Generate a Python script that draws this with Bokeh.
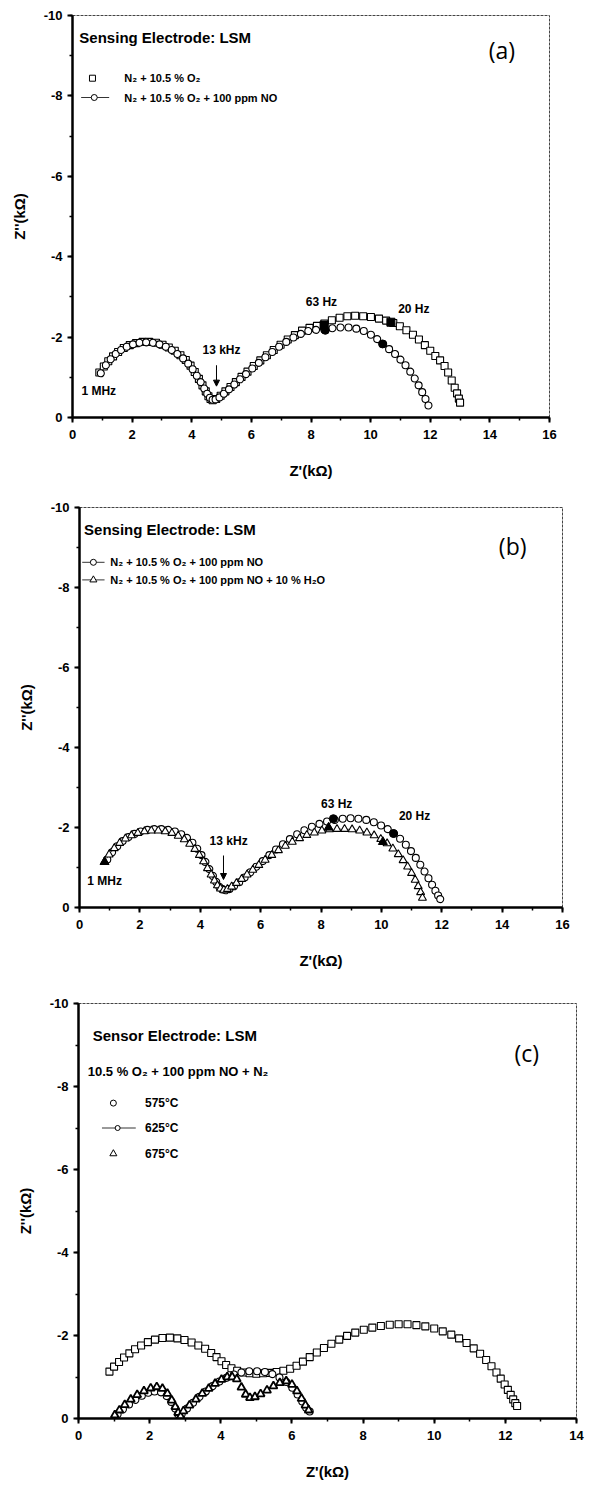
from bokeh.plotting import figure
from bokeh.models import Range1d, FixedTicker, Label, Arrow, NormalHead, PrintfTickFormatter
from bokeh.layouts import column
from bokeh.embed import file_html
from bokeh.resources import INLINE

# ---------------- Panel (a) data ----------------
a_o2_x = [0.90,1.05,1.20,1.36,1.53,1.72,1.92,2.13,2.35,2.57,2.80,3.02,3.23,3.43,3.62,3.80,3.96,4.10,4.24,4.36,4.47,4.56,4.63,
          4.70,4.82,4.97,5.13,5.30,5.48,5.67,5.87,6.08,6.30,6.52,6.75,6.98,7.22,7.46,7.70,7.95,8.20,8.45,8.70,8.96,9.22,9.48,
          9.75,10.01,10.28,10.52,10.76,10.98,11.20,11.42,11.62,11.82,12.00,12.17,12.33,12.48,12.60,12.72,12.82,12.90,12.96,13.00]
a_o2_y = [-1.12,-1.27,-1.40,-1.52,-1.63,-1.73,-1.80,-1.85,-1.88,-1.88,-1.86,-1.81,-1.74,-1.66,-1.55,-1.43,-1.29,-1.13,-0.96,-0.80,-0.65,-0.53,-0.46,
          -0.43,-0.46,-0.54,-0.65,-0.76,-0.88,-1.01,-1.14,-1.28,-1.42,-1.55,-1.68,-1.81,-1.94,-2.05,-2.16,-2.23,-2.28,-2.34,-2.42,-2.48,-2.52,-2.53,
          -2.52,-2.50,-2.46,-2.41,-2.35,-2.27,-2.17,-2.06,-1.94,-1.80,-1.66,-1.53,-1.42,-1.28,-1.12,-0.92,-0.74,-0.60,-0.47,-0.37]
a_no_x = [0.95,1.12,1.28,1.45,1.63,1.82,2.03,2.25,2.47,2.70,2.92,3.13,3.33,3.52,3.71,3.88,4.03,4.17,4.30,4.42,4.52,4.61,4.70,
          4.80,4.93,5.08,5.25,5.43,5.62,5.82,6.03,6.25,6.47,6.70,6.93,7.17,7.41,7.66,7.91,8.17,8.45,8.72,8.99,9.26,9.52,9.77,
          10.01,10.22,10.42,10.62,10.82,11.00,11.17,11.33,11.48,11.61,11.73,11.84,11.94]
a_no_y = [-1.10,-1.30,-1.45,-1.58,-1.68,-1.76,-1.82,-1.86,-1.87,-1.86,-1.82,-1.76,-1.68,-1.58,-1.47,-1.34,-1.20,-1.04,-0.88,-0.72,-0.59,-0.49,-0.44,
          -0.45,-0.50,-0.59,-0.70,-0.82,-0.95,-1.08,-1.22,-1.36,-1.50,-1.63,-1.76,-1.88,-1.99,-2.08,-2.15,-2.18,-2.18,-2.22,-2.24,-2.24,-2.21,-2.15,
          -2.06,-1.95,-1.83,-1.70,-1.58,-1.44,-1.30,-1.14,-0.97,-0.80,-0.63,-0.46,-0.30]
a_sq_fill_x = [8.44, 10.68]
a_sq_fill_y = [-2.30, -2.37]
a_ci_fill_x = [8.48, 10.40]
a_ci_fill_y = [-2.17, -1.83]

# ---------------- Panel (b) data ----------------
b_no_x = [0.92,1.08,1.25,1.43,1.62,1.82,2.03,2.25,2.48,2.71,2.94,3.16,3.37,3.56,3.74,3.90,4.04,4.17,4.30,4.42,4.53,4.63,4.73,
          4.84,4.97,5.12,5.29,5.47,5.66,5.86,6.07,6.29,6.51,6.74,6.97,7.21,7.45,7.70,7.95,8.20,8.46,8.72,8.98,9.24,9.50,9.75,
          9.99,10.21,10.42,10.62,10.81,10.98,11.14,11.29,11.43,11.56,11.68,11.79,11.88,11.95]
b_no_y = [-1.20,-1.38,-1.53,-1.66,-1.76,-1.84,-1.90,-1.94,-1.96,-1.96,-1.94,-1.90,-1.83,-1.74,-1.62,-1.47,-1.31,-1.14,-0.96,-0.79,-0.64,-0.52,-0.45,
          -0.43,-0.46,-0.53,-0.63,-0.75,-0.88,-1.02,-1.16,-1.31,-1.45,-1.58,-1.71,-1.83,-1.93,-2.02,-2.09,-2.15,-2.19,-2.22,-2.23,-2.22,-2.19,-2.13,
          -2.05,-1.96,-1.85,-1.72,-1.57,-1.41,-1.24,-1.07,-0.90,-0.73,-0.57,-0.42,-0.30,-0.21]
b_h2o_x = [0.83,0.98,1.15,1.33,1.52,1.72,1.93,2.15,2.38,2.61,2.84,3.06,3.27,3.47,3.65,3.82,3.97,4.11,4.24,4.36,4.47,4.57,4.67,
           4.78,4.90,5.04,5.20,5.37,5.55,5.74,5.94,6.15,6.37,6.59,6.82,7.05,7.29,7.53,7.78,8.03,8.28,8.53,8.78,9.03,9.28,9.52,
           9.76,9.98,10.19,10.38,10.56,10.72,10.87,11.00,11.12,11.22,11.30,11.36]
b_h2o_y = [-1.14,-1.32,-1.48,-1.61,-1.72,-1.80,-1.86,-1.90,-1.92,-1.92,-1.90,-1.86,-1.79,-1.70,-1.59,-1.46,-1.31,-1.15,-0.98,-0.82,-0.67,-0.55,-0.47,
           -0.44,-0.46,-0.52,-0.61,-0.71,-0.82,-0.94,-1.06,-1.19,-1.31,-1.43,-1.54,-1.64,-1.73,-1.81,-1.87,-1.92,-1.95,-1.96,-1.96,-1.95,-1.92,-1.87,
           -1.80,-1.71,-1.60,-1.47,-1.33,-1.18,-1.02,-0.86,-0.69,-0.53,-0.38,-0.24]
b_ci_fill_x = [8.41, 10.40]
b_ci_fill_y = [-2.22, -1.85]
b_tr_fill_x = [0.83, 8.25, 10.05]
b_tr_fill_y = [-1.14, -2.00, -1.64]

# ---------------- Panel (c) data ----------------
c_575_x = [0.87,1.00,1.14,1.28,1.43,1.59,1.76,1.95,2.15,2.36,2.57,2.78,2.98,3.18,3.37,3.56,3.73,3.88,4.02,4.15,4.30,4.46,4.63,
           4.81,5.00,5.19,5.38,5.57,5.76,5.95,6.13,6.31,6.50,6.70,6.90,7.11,7.33,7.55,7.78,8.02,8.26,8.50,8.75,9.00,9.25,9.50,
           9.75,10.00,10.24,10.48,10.70,10.91,11.11,11.29,11.46,11.61,11.75,11.87,11.98,12.07,12.15,12.22,12.28,12.33]
c_575_y = [-1.13,-1.25,-1.36,-1.47,-1.57,-1.67,-1.76,-1.84,-1.90,-1.94,-1.95,-1.93,-1.89,-1.83,-1.76,-1.68,-1.58,-1.48,-1.38,-1.29,-1.21,-1.15,-1.11,
           -1.09,-1.08,-1.09,-1.10,-1.12,-1.15,-1.20,-1.27,-1.37,-1.48,-1.59,-1.70,-1.80,-1.90,-1.99,-2.07,-2.14,-2.19,-2.23,-2.26,-2.27,-2.27,-2.25,
           -2.22,-2.17,-2.10,-2.02,-1.93,-1.82,-1.69,-1.56,-1.41,-1.26,-1.11,-0.96,-0.82,-0.69,-0.57,-0.46,-0.37,-0.30]
c_625_x = [1.10,1.25,1.42,1.60,1.78,1.96,2.14,2.32,2.48,2.61,2.72,2.80,2.90,3.05,3.22,3.40,3.58,3.77,3.96,4.16,4.37,4.58,
           4.80,5.02,5.24,5.45,5.65,5.84,6.01,6.16,6.29,6.40,6.50]
c_625_y = [-0.10,-0.22,-0.34,-0.45,-0.55,-0.62,-0.65,-0.63,-0.54,-0.40,-0.24,-0.10,-0.10,-0.24,-0.38,-0.52,-0.65,-0.78,-0.89,-0.98,-1.06,-1.11,
           -1.14,-1.14,-1.12,-1.07,-0.99,-0.88,-0.74,-0.58,-0.41,-0.26,-0.17]
c_675_x = [1.02,1.15,1.30,1.47,1.65,1.84,2.03,2.20,2.36,2.50,2.62,2.72,2.80,2.87,2.95,3.12,3.30,3.48,3.66,3.84,4.02,4.18,4.32,
           4.45,4.58,4.70,4.82,4.96,5.12,5.30,5.48,5.66,5.84,6.00,6.14,6.27,6.38,6.47]
c_675_y = [-0.08,-0.20,-0.33,-0.46,-0.57,-0.66,-0.73,-0.76,-0.72,-0.60,-0.44,-0.28,-0.14,-0.05,-0.18,-0.32,-0.46,-0.60,-0.72,-0.84,-0.94,-1.00,-1.00,
           -0.95,-0.75,-0.58,-0.50,-0.52,-0.59,-0.68,-0.78,-0.86,-0.90,-0.82,-0.66,-0.48,-0.32,-0.20]

# tick values
y_ticks = [0, -2, -4, -6, -8, -10]
y_minor = [0, -1, -2, -3, -4, -5, -6, -7, -8, -9, -10]
x_ticks_16 = [0, 2, 4, 6, 8, 10, 12, 14, 16]
x_minor_16 = list(range(0, 17))
x_ticks_14 = [0, 2, 4, 6, 8, 10, 12, 14]
x_minor_14 = list(range(0, 15))

FONT = "Liberation Sans"


def make_fig(h, left, right, top, bottom, xmax, xt, xm):
    p = figure(width=589, height=h, x_range=Range1d(0, xmax), y_range=Range1d(0, -10),
               output_backend="svg", toolbar_location=None,
               min_border_left=left, min_border_right=right,
               min_border_top=top, min_border_bottom=bottom)
    p.frame_align = False
    p.grid.visible = False
    p.background_fill_color = "white"
    p.border_fill_color = "white"
    p.outline_line_color = "#444444"
    p.outline_line_width = 1
    p.outline_line_dash = "3 1"
    p.xaxis.ticker = FixedTicker(ticks=xt, minor_ticks=xm)
    p.yaxis.ticker = FixedTicker(ticks=y_ticks, minor_ticks=y_minor)
    p.xaxis.formatter = PrintfTickFormatter(format="%d")
    p.yaxis.formatter = PrintfTickFormatter(format="%d")
    for ax in (p.xaxis[0], p.yaxis[0]):
        ax.axis_line_width = 2.5
        ax.axis_line_color = "black"
        ax.major_tick_in = 0
        ax.major_tick_out = 5
        ax.minor_tick_in = 0
        ax.minor_tick_out = 3
        ax.major_tick_line_width = 2
        ax.minor_tick_line_width = 1.5
        ax.major_label_text_font = FONT
        ax.major_label_text_font_style = "bold"
        ax.major_label_text_font_size = "13px"
        ax.major_label_text_color = "black"
        ax.axis_label_text_font = FONT
        ax.axis_label_text_font_style = "bold"
        ax.axis_label_text_font_size = "15px"
        ax.axis_label_text_color = "black"
    p.xaxis.axis_label = "Z'(kΩ)"
    p.yaxis.axis_label = "Z''(kΩ)"
    p.xaxis.major_label_standoff = 7
    p.xaxis.axis_label_standoff = 20
    p.yaxis.major_label_standoff = 5
    p.yaxis.axis_label_standoff = 13
    return p


def txt(p, x, y, s, size="12px", align="left", font=FONT, style="bold"):
    p.add_layout(Label(x=x, y=y, text=s, text_font=font, text_font_style=style,
                       text_font_size=size, text_align=align, text_baseline="middle",
                       text_color="black"))


def arrow(p, x, y0, y1):
    p.add_layout(Arrow(end=NormalHead(size=6, fill_color="black", line_color="black"),
                       x_start=x, y_start=y0, x_end=x, y_end=y1,
                       line_width=1, line_color="black"))


MS = 7

# ---------------- Panel (a) ----------------
pa = make_fig(490, 72, 40, 15, 73, 16, x_ticks_16, x_minor_16)
pa.scatter(a_o2_x, a_o2_y, marker="square", size=MS, fill_color="white", line_color="black", line_width=1.1)
pa.line(a_no_x, a_no_y, line_color="black", line_width=0.7, line_dash="2 2")
pa.scatter(a_no_x, a_no_y, marker="circle", size=MS, fill_color="white", line_color="black", line_width=1.1)
pa.scatter(a_sq_fill_x, a_sq_fill_y, marker="square", size=MS + 1, fill_color="black", line_color="black")
pa.scatter(a_ci_fill_x, a_ci_fill_y, marker="circle", size=MS + 1, fill_color="black", line_color="black")
txt(pa, 0.23, -9.46, "Sensing Electrode: LSM", size="15px")
pa.scatter([0.67], [-8.44], marker="square", size=6, fill_color="white", line_color="black")
txt(pa, 1.74, -8.44, "N₂ + 10.5 % O₂", size="11px")
pa.line([0.29, 1.23], [-7.96, -7.96], line_color="black", line_width=0.8)
pa.scatter([0.73], [-7.96], marker="circle", size=6, fill_color="white", line_color="black")
txt(pa, 1.74, -7.96, "N₂ + 10.5 % O₂ + 100 ppm NO", size="11px")
txt(pa, 14.4, -9.13, "(a)", size="23px", align="center", font="Open Sans", style="normal")
txt(pa, 0.30, -0.67, "1 MHz", size="12px")
txt(pa, 4.36, -1.67, "13 kHz", size="12px")
arrow(pa, 4.83, -1.30, -0.78)
txt(pa, 8.35, -2.87, "63 Hz", size="12px", align="center")
txt(pa, 11.45, -2.70, "20 Hz", size="12px", align="center")

# ---------------- Panel (b) ----------------
pb = make_fig(500, 79, 27, 17, 83, 16, x_ticks_16, x_minor_16)
pb.line(b_no_x, b_no_y, line_color="black", line_width=0.7, line_dash="2 2")
pb.scatter(b_no_x, b_no_y, marker="circle", size=MS, fill_color="white", line_color="black", line_width=1.1)
pb.line(b_h2o_x, b_h2o_y, line_color="black", line_width=0.7, line_dash="2 2")
pb.scatter(b_h2o_x, b_h2o_y, marker="triangle", size=MS + 1, fill_color="white", line_color="black", line_width=1.1)
pb.scatter(b_ci_fill_x, b_ci_fill_y, marker="circle", size=MS + 1, fill_color="black", line_color="black")
pb.scatter(b_tr_fill_x, b_tr_fill_y, marker="triangle", size=MS + 2, fill_color="black", line_color="black")
txt(pb, 0.15, -9.46, "Sensing Electrode: LSM", size="15px")
pb.line([0.09, 0.83], [-8.63, -8.63], line_color="black", line_width=0.8)
pb.scatter([0.46], [-8.63], marker="circle", size=6, fill_color="white", line_color="black")
txt(pb, 1.02, -8.63, "N₂ + 10.5 % O₂ + 100 ppm NO", size="11px")
pb.line([0.09, 0.83], [-8.19, -8.19], line_color="black", line_width=0.8)
pb.scatter([0.46], [-8.19], marker="triangle", size=7, fill_color="white", line_color="black")
txt(pb, 1.02, -8.19, "N₂ + 10.5 % O₂ + 100 ppm NO + 10 % H₂O", size="11px")
txt(pb, 14.35, -9.04, "(b)", size="23px", align="center", font="Open Sans", style="normal")
txt(pb, 0.26, -0.67, "1 MHz", size="12px")
txt(pb, 4.31, -1.67, "13 kHz", size="12px")
arrow(pb, 4.77, -1.30, -0.70)
txt(pb, 8.52, -2.60, "63 Hz", size="12px", align="center")
txt(pb, 11.10, -2.30, "20 Hz", size="12px", align="center")

# ---------------- Panel (c) ----------------
pc = make_fig(498, 78, 13, 13, 70, 14, x_ticks_14, x_minor_14)
pc.scatter(c_575_x, c_575_y, marker="square", size=MS, fill_color="white", line_color="black", line_width=1.1)
pc.line(c_625_x, c_625_y, line_color="black", line_width=0.8)
pc.scatter(c_625_x, c_625_y, marker="circle", size=MS, fill_color="white", line_color="black", line_width=1.1)
pc.scatter(c_675_x, c_675_y, marker="triangle", size=MS + 1, fill_color="white", line_color="black", line_width=1.8)
txt(pc, 0.40, -9.24, "Sensor Electrode: LSM", size="15px")
txt(pc, 0.26, -8.36, "10.5 % O₂ + 100 ppm NO + N₂", size="13px")
pc.scatter([0.98], [-7.60], marker="circle", size=6, fill_color="white", line_color="black")
txt(pc, 1.87, -7.60, "575°C", size="12px")
pc.line([0.66, 1.61], [-7.00, -7.00], line_color="black", line_width=0.8)
pc.scatter([1.10], [-7.00], marker="circle", size=5, fill_color="white", line_color="black")
txt(pc, 1.87, -7.00, "625°C", size="12px")
pc.scatter([0.98], [-6.38], marker="triangle", size=7, fill_color="white", line_color="black")
txt(pc, 1.87, -6.38, "675°C", size="12px")
txt(pc, 12.6, -8.80, "(c)", size="23px", align="center", font="Open Sans", style="normal")

layout = column(pa, pb, pc, spacing=0)
open("out.html", "w").write(file_html(layout, INLINE))
